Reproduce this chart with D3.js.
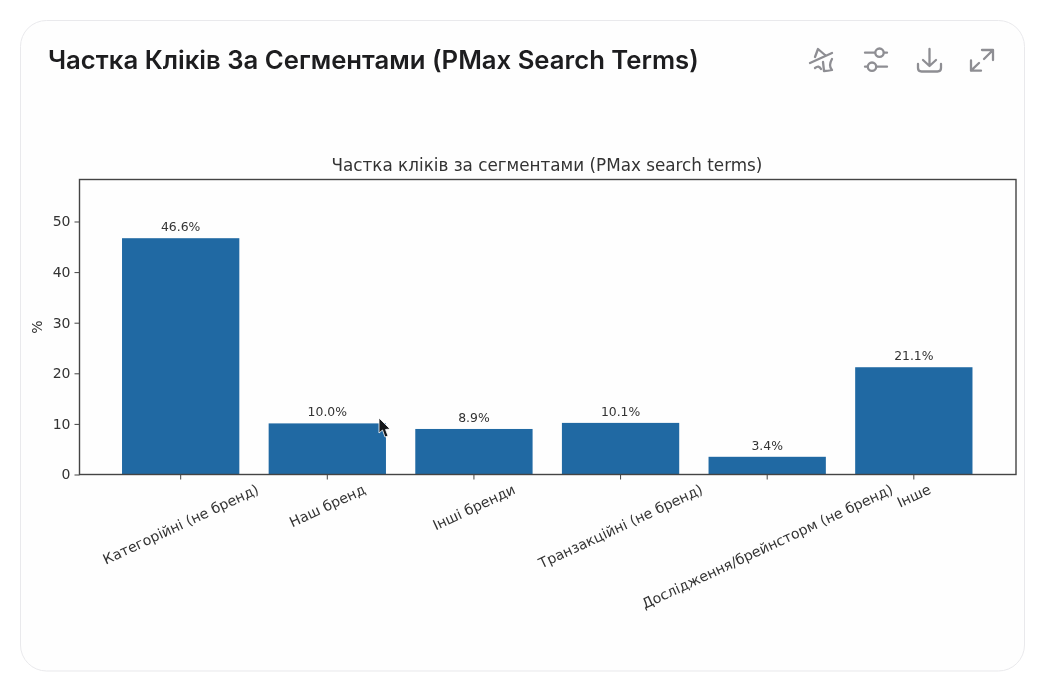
<!DOCTYPE html>
<html><head><meta charset="utf-8">
<script src="https://cdn.jsdelivr.net/npm/d3@7"></script>
<style>
html,body{margin:0;padding:0;background:#fff;overflow:hidden}
svg{display:block;filter:blur(0.35px)}
</style></head><body><svg id="c" width="1045" height="684"></svg>
<script>
const cardTitle = "Частка Кліків За Сегментами (PMax Search Terms)";
const chartTitle = "Частка кліків за сегментами (PMax search terms)";
const yLabel = "%";
const categories = ["Категорійні (не бренд)","Наш бренд","Інші бренди","Транзакційні (не бренд)","Дослідження/брейнсторм (не бренд)","Інше"];
const shares = [46.6,10.0,8.9,10.1,3.4,21.1];
const yTicks = [0,10,20,30,40,50];

const svg = d3.select("#c");
const FONT = "'DejaVu Sans', sans-serif";
const INK = "#333";

svg.append("rect").attr("x",20.5).attr("y",20.5).attr("width",1004).attr("height",650.5)
  .attr("rx",26).attr("fill","#fefefe").attr("stroke","#e9e9ec");

svg.append("text").attr("x",48).attr("y",69).attr("fill","#1d1d1f")
  .attr("font-family","Inter, sans-serif").attr("font-weight",600).attr("font-size",25.7)
  .text(cardTitle);

const m = {l:79.5,r:1016,t:179.5,b:474.5};
const x = d3.scaleBand().domain(categories).range([m.l,m.r-1]).paddingInner(0.2).paddingOuter(0.29);
const y = d3.scaleLinear().domain([0,58.3]).range([m.b,m.t]);

svg.append("text").attr("x",547).attr("y",170.5).attr("text-anchor","middle")
  .attr("font-family",FONT).attr("font-size",16.8).attr("fill",INK).text(chartTitle);

svg.append("g").selectAll("rect").data(shares).join("rect")
  .attr("x",(d,i)=>x(categories[i])).attr("width",x.bandwidth())
  .attr("y",d=>y(d)-0.5).attr("height",d=>y(0)-y(d)+0.5).attr("fill","#2069a3");

svg.append("g").selectAll("text").data(shares).join("text")
  .attr("x",(d,i)=>x(categories[i])+x.bandwidth()/2).attr("y",d=>y(d)-7.5)
  .attr("text-anchor","middle").attr("font-family",FONT).attr("font-size",12.4).attr("fill",INK)
  .text(d=>d.toFixed(1)+"%");

const yAxis = svg.append("g").attr("transform",`translate(${m.l},0)`)
  .call(d3.axisLeft(y).tickValues(yTicks).tickSize(5).tickPadding(4).tickFormat(d3.format("d")));
yAxis.select(".domain").remove();
yAxis.selectAll("line").attr("stroke","#444");
yAxis.selectAll("text").attr("font-family",FONT).attr("font-size",14).attr("fill",INK);

const xAxis = svg.append("g").attr("transform",`translate(0,${m.b})`)
  .call(d3.axisBottom(x).tickSize(5).tickFormat(""));
xAxis.select(".domain").remove();
xAxis.selectAll("line").attr("stroke","#444");

const ang = 25*Math.PI/180, labelH = 14, labelTop = 482;
xAxis.selectAll(".tick text").remove();
svg.append("g").selectAll("text").data(categories).join("text")
  .attr("text-anchor","middle").attr("dominant-baseline","central")
  .attr("font-family",FONT).attr("font-size",14.1).attr("fill",INK).text(d=>d)
  .attr("transform",function(d){
    const L=this.getComputedTextLength();
    const cy=labelTop+(L*Math.sin(ang)+labelH*Math.cos(ang))/2;
    return `translate(${x(d)+x.bandwidth()/2},${cy}) rotate(-25)`;
  });

svg.append("rect").attr("x",m.l).attr("y",m.t).attr("width",m.r-m.l).attr("height",m.b-m.t)
  .attr("fill","none").attr("stroke","#444").attr("stroke-width",1.4);

svg.append("text").attr("transform",`translate(42,327) rotate(-90)`).attr("text-anchor","middle")
  .attr("font-family",FONT).attr("font-size",14).attr("fill",INK).text(yLabel);

// toolbar icons
const ic = svg.append("g").attr("fill","none").attr("stroke","#8e8e93").attr("stroke-width",2.3)
  .attr("stroke-linecap","round").attr("stroke-linejoin","round");
ic.append("path").attr("d","M815 57 L818 49 L825 55 M810 63 L832 53 M815 68 Q819 65 821 69 M823 62 L824 71 Q828 71 832 70 Q828 66 832 59");
ic.append("path").attr("d","M865 52.700 H875 M884 52.700 H887 M865 66.700 H867 M877 66.700 H887");
ic.append("circle").attr("cx",879.500).attr("cy",52.700).attr("r",4.200);
ic.append("circle").attr("cx",872).attr("cy",66.700).attr("r",4.200);
ic.append("path").attr("d","M929.500 49 V66 M923 60 L929.500 66 L936 60 M918 64 V68 Q918 71.500 921.500 71.500 H937.500 Q941 71.500 941 68 V64");
ic.append("path").attr("d","M982 50 H993 V60 M993 50 L984 59 M971 60.500 V70.700 H981 M971 70.700 L979 63");

// mouse pointer captured in the screenshot
svg.append("path").attr("d","M379 418 L379 433 L382.500 430 L385 437 L388 436 L385.500 429.500 L390 429 Z")
  .attr("fill","#15171a").attr("stroke","#fff").attr("stroke-width",0.8);
</script></body></html>
